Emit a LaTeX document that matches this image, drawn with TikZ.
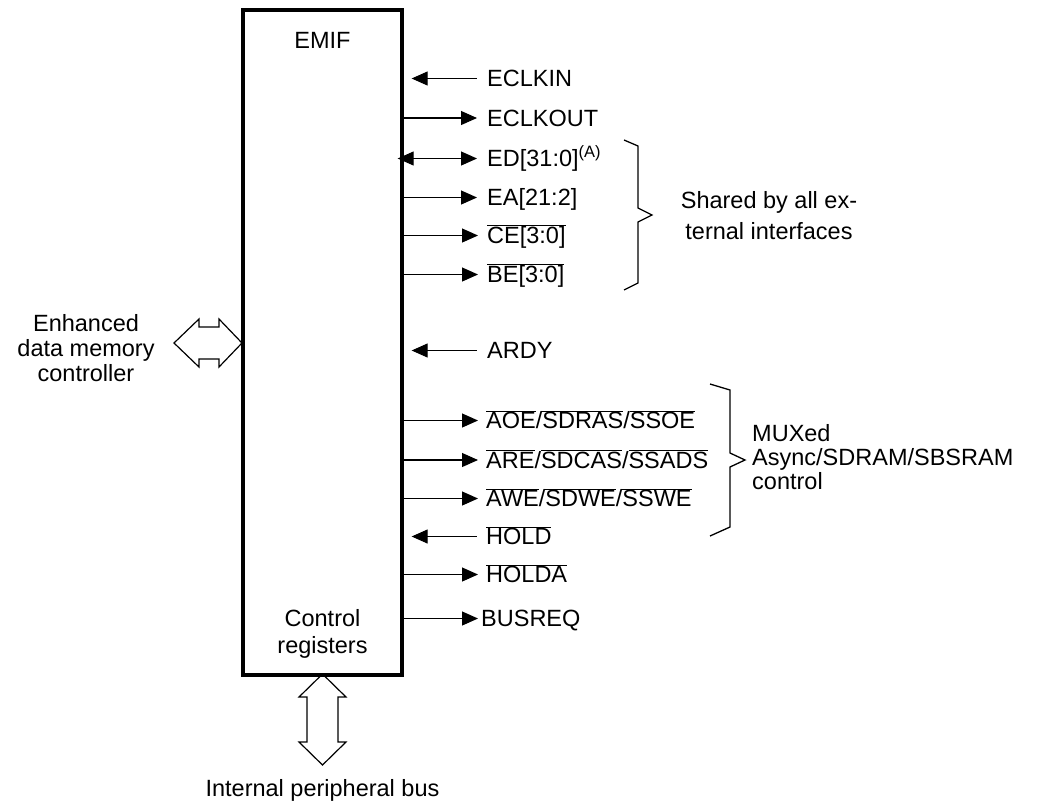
\documentclass[tikz,border=0pt]{standalone}
\usepackage{fontspec}
\setmainfont{Liberation Sans}
\usetikzlibrary{arrows.meta}
\newcommand{\ovl}[1]{$\overline{\hbox{#1}}$}
\begin{document}
\begin{tikzpicture}[x=1pt,y=-1pt,
  every node/.style={font=\fontsize{23.5}{27}\selectfont, inner sep=0pt},
  sig/.style={anchor=west, text height=16pt, text depth=0pt},
  wire/.style={line width=1.1pt},
  tri/.tip={Triangle[length=16pt,width=14pt]},
  hollow/.style={line width=1.2pt, line join=miter},
  brace/.style={line width=1.3pt}]
\useasboundingbox (0,0) rectangle (1044,804);

% EMIF box
\node (emif) [draw, line width=3.3pt, minimum width=159pt, minimum height=665pt] at (322.5,342.5) {};
\node (title) at (322.5,40) {EMIF};
\node (ctrl) [align=center, font=\fontsize{23.5}{27}\selectfont] at (322.5,634) {Control\\registers};

% signal labels
\node (eclkin)  [sig] at (487,78.5)  {ECLKIN};
\node (eclkout) [sig] at (487,118)   {ECLKOUT};
\node (ed)      [sig] at (487,158.5) {ED[31:0]\textsuperscript{(A)}};
\node (ea)      [sig] at (487,197.5) {EA[21:2]};
\node (ce)      [sig] at (487,235.5) {\ovl{CE[3:0]}};
\node (be)      [sig] at (487,274.5) {\ovl{BE[3:0]}};
\node (ardy)    [sig] at (487,350.5) {ARDY};
\node (aoe)     [sig] at (486,420.5) {\ovl{AOE}/\ovl{SDRAS}/\ovl{SSOE}};
\node (are)     [sig] at (486,460)   {\ovl{ARE}/\ovl{SDCAS}/\ovl{SSADS}};
\node (awe)     [sig] at (486,498.5) {\ovl{AWE}/\ovl{SDWE}/\ovl{SSWE}};
\node (hold)    [sig] at (486,536.5) {\ovl{HOLD}};
\node (holda)   [sig] at (486,574.5) {\ovl{HOLDA}};
\node (busreq)  [sig] at (481,618.5) {BUSREQ};

% connectors
\draw[wire,tri-] ([xshift=8pt]emif.east |- eclkin.west) -- ([xshift=-10pt]eclkin.west);
\draw[wire,-tri] (emif.east |- eclkout.west) -- ([xshift=-10pt]eclkout.west);
\draw[wire,tri-tri] ([xshift=-6pt]emif.east |- ed.west) -- ([xshift=-10pt]ed.west);
\draw[wire,-tri] (emif.east |- ea.west) -- ([xshift=-10pt]ea.west);
\draw[wire,-tri] (emif.east |- ce.west) -- ([xshift=-9pt]ce.west);
\draw[wire,-tri] (emif.east |- be.west) -- ([xshift=-9pt]be.west);
\draw[wire,tri-] ([xshift=8pt]emif.east |- ardy.west) -- ([xshift=-10pt]ardy.west);
\draw[wire,-tri] (emif.east |- aoe.west) -- ([xshift=-8pt]aoe.west);
\draw[wire,-tri] (emif.east |- are.west) -- ([xshift=-8pt]are.west);
\draw[wire,-tri] (emif.east |- awe.west) -- ([xshift=-8pt]awe.west);
\draw[wire,tri-] ([xshift=8pt]emif.east |- hold.west) -- ([xshift=-9pt]hold.west);
\draw[wire,-tri] (emif.east |- holda.west) -- ([xshift=-8pt]holda.west);
\draw[wire,-tri] (emif.east |- busreq.west) -- ([xshift=-3pt]busreq.west);

% braces
\draw[brace] (624,140) -- (638,146) -- (638,208) -- (652,215) -- (638,222) -- (638,283) -- (624,290);
\node (shared) [align=center, font=\fontsize{23.5}{31}\selectfont] at (769,216) {Shared by all ex-\\ternal interfaces};
\draw[brace] (710,384) -- (730,390) -- (730,453) -- (745,460) -- (730,467) -- (730,527) -- (710,536);
\node (mux) [align=left, anchor=west, font=\fontsize{23.5}{24}\selectfont] at (752,457) {MUXed\\Async/SDRAM/SBSRAM\\control};

% left hollow double arrow
\draw[hollow] (174,343) -- (199,319) -- (199,327) -- (219,327) -- (219,319) -- (242,343)
  -- (219,367) -- (219,359) -- (199,359) -- (199,367) -- cycle;
\node (edmc) [align=center, font=\fontsize{23.5}{25}\selectfont] at (86,348) {Enhanced\\data memory\\controller};

% bottom hollow double arrow
\draw[hollow] (322.5,674) -- (346,697) -- (338,697) -- (338,742) -- (346,742) -- (322.5,765)
  -- (299,742) -- (307,742) -- (307,697) -- (299,697) -- cycle;
\node (ipb) at (322.5,790) {Internal peripheral bus};
\end{tikzpicture}
\end{document}
